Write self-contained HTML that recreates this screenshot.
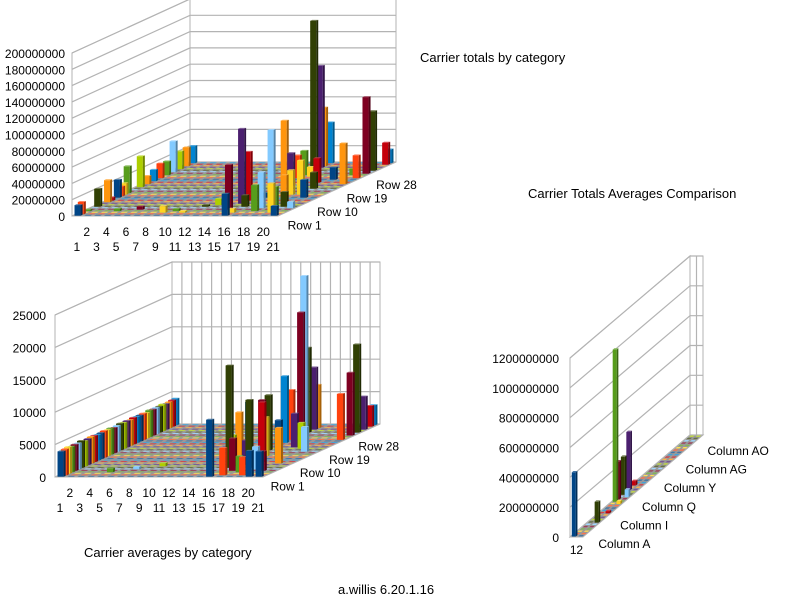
<!DOCTYPE html>
<html><head><meta charset="utf-8"><style>
html,body{margin:0;padding:0;background:#fff;width:800px;height:600px;overflow:hidden}
svg{display:block;font-family:"Liberation Sans",sans-serif}
</style></head><body>
<svg id="svg" width="800" height="600" viewBox="0 0 800 600">
<text x="420" y="62" font-size="13">Carrier totals by category</text>
<text x="528" y="198" font-size="13">Carrier Totals Averages Comparison</text>
<text x="84" y="557" font-size="13">Carrier averages by category</text>
<text x="338" y="594" font-size="13">a.willis 6.20.1.16</text>
</svg>
<script>
// ---- Chart 1: totals (values in millions) ----
const c1Cats = ["1","2","3","4","5","6","7","8","9","10","11","12","13","14","15","16","17","18","19","20","21"];
const c1RowLabels = ["Row 1","Row 10","Row 19","Row 28"];
const c1Ticks = [0,20,40,60,80,100,120,140,160,180,200];
const c1BarCat = [0,0,0,0,0,0,0,0,0,0,0,0,0,0,0,0,0,0,0,3,5,8,9,10,11,12,14,14,14,14,14,14,14,14,14,14,14,15,15,15,15,15,15,17,17,17,17,17,18,18,18,18,19,19,19,19,19,20,20,20,20,20,20,20,20];
const c1BarRow = [0,1,3,6,9,10,12,13,14,15,19,21,23,25,27,29,31,33,35,3,4,2,3,2,6,7,4,8,10,17,21,25,27,30,32,33,35,0,2,6,12,20,26,3,5,8,14,22,9,14,18,24,2,3,6,12,27,0,5,21,25,28,30,34,35];
const c1BarVal = [13,15,2,22,27,4,22,12,14,33,38,10,14,18,17,38,22,23,21,3,4,8,3,2,2,8,55,92,60,74,78,28,30,184,125,72,50,27,5,14,6,40,12,32,44,25,30,30,33,42,20,15,36,30,18,22,8,12,8,50,28,94,73,27,17];

// ---- Chart 2: averages ----
const c2Cats = c1Cats.slice();
const c2RowLabels = ["Row 1","Row 10","Row 19","Row 28"];
const c2Ticks = [0,5000,10000,15000,20000,25000];
const c2BarCat = [0,0,0,0,0,0,0,0,0,0,0,0,0,0,0,0,0,0,0,0,0,0,0,0,0,0,0,0,0,0,0,0,0,0,0,0,4,6,8,15,15,15,15,15,15,15,15,15,15,15,15,15,15,16,16,16,16,17,17,17,17,17,18,18,18,18,19,19,19,19,20,20,20,20,20,20,20];
const c2BarRow = [0,1,2,3,4,5,6,7,8,9,10,11,12,13,14,15,16,17,18,19,20,21,22,23,24,25,26,27,28,29,30,31,32,33,34,35,3,5,7,0,6,7,9,12,16,18,23,25,28,29,30,32,33,1,4,8,14,6,10,3,15,20,1,5,12,19,0,4,9,17,0,25,28,30,32,34,35];
const c2BarVal = [3900,4000,4100,3950,4050,4000,4150,3900,4000,4100,4050,3950,4000,4100,4000,4050,3900,4000,4100,4000,4050,3950,4100,4000,4000,4050,3900,4100,4000,4050,4000,4100,3950,4000,4050,4100,600,400,500,8800,15800,4800,7900,8800,8200,8500,10300,7700,19000,24400,13100,9600,6700,4200,5000,3800,6000,10500,9200,2500,4500,5200,2800,3500,6000,4000,4000,3000,5500,3800,3900,7100,9700,13600,5100,3200,3100];

// ---- Chart 3: comparison (values in millions) ----
const c3Cats = ["1","2"];
const c3RowLabels = ["Column A","Column I","Column Q","Column Y","Column AG","Column AO"];
const c3Ticks = [0,200,400,600,800,1000,1200];
const c3BarCat = [0,1,0,0,0,0,1,1,0,1];
const c3BarRow = [0,6,15,16,18,20,17,14,22,10];
const c3BarVal = [430,140,1020,255,255,390,50,20,30,15];

const palette = ["#004586","#ff420e","#ffd320","#579d1c","#7e0021","#83caff","#314004","#aecf00","#4b1f6f","#ff950e","#c5000b","#0084d1"];
const svg = document.getElementById('svg');
const NS = "http://www.w3.org/2000/svg";
function mk(tag, attrs, parent){const e=document.createElementNS(NS,tag);for(const k in attrs)e.setAttribute(k,attrs[k]);(parent||svg).appendChild(e);return e;}
function shade(hex,f){const n=parseInt(hex.slice(1),16);let r=n>>16,g=(n>>8)&255,b=n&255;const c=v=>Math.max(0,Math.min(255,Math.round(f>1?v+(255-v)*(f-1):v*f)));return "rgb("+c(r)+","+c(g)+","+c(b)+")";}

function chart(o){
  const g = mk('g',{});
  
  
  const nC=o.cats.length, nR=o.nRows;
  const P=(c,r,v)=>[o.x0+c/nC*o.cx+r/nR*o.rdx, o.y0-r/nR*o.rdy-v*o.scale];
  const H=o.ticks[o.ticks.length-1];
  const fl=[P(0,0,0),P(nC,0,0),P(nC,nR,0),P(0,nR,0)];
  const floor=mk('polygon',{points:fl.map(p=>p.join(',')).join(' '),fill:'#999',stroke:'#b3b3b3'},g);
  
  
  const lw=mk('polygon',{points:[P(0,0,0),P(0,nR,0),P(0,nR,H),P(0,0,H)].map(p=>p.join(',')).join(' '),fill:'#fff',stroke:'#b3b3b3'},g);
  
  
  const bw=mk('polygon',{points:[P(0,nR,0),P(nC,nR,0),P(nC,nR,H),P(0,nR,H)].map(p=>p.join(',')).join(' '),fill:'#fff',stroke:'#b3b3b3'},g);
  
  
  o.ticks.forEach(t=>{
    const a=P(0,0,t),b=P(0,nR,t),c=P(nC,nR,t);
    const gl=mk('polyline',{points:[a,b,c].map(p=>p.join(',')).join(' '),fill:'none',stroke:'#b3b3b3','stroke-width':1.2},g);
    
    
    const tl=mk('text',{x:o.labelX,y:a[1]+5,'text-anchor':'end','font-size':12},g);
    tl.textContent=String(t*o.unit);
    
    
  });
  if(o.vgrid){for(let c=1;c<nC;c++){const a=P(c,nR,0),b=P(c,nR,H);const vl=mk('line',{x1:a[0],y1:a[1],x2:b[0],y2:b[1],stroke:'#b3b3b3','stroke-width':1.2},g);}}
  const vals={};
  o.bc.forEach((c,k)=>{vals[c+'_'+o.br[k]]=o.bv[k];});
  for(let r=nR-1;r>=0;r--){
    for(let c=0;c<nC;c++){
      const v=vals[c+'_'+r]||0;
      const col=palette[r%palette.length];
      const w=0.62/nC*o.cx, ddx=0.6/nR*o.rdx, ddy=0.6/nR*o.rdy;
      const [bx,by]=P(c+0.19,r+0.2,0);
      const h=v*o.scale;
      const bar=mk('g',{},g);
      
      
      if(h>0.5){
        mk('rect',{x:bx,y:by-h,width:w,height:h,fill:col},bar);
        mk('polygon',{points:`${bx+w},${by} ${bx+w+ddx},${by-ddy} ${bx+w+ddx},${by-h-ddy} ${bx+w},${by-h}`,fill:shade(col,0.65)},bar);
      }
      mk('polygon',{points:`${bx},${by-h} ${bx+w},${by-h} ${bx+w+ddx},${by-h-ddy} ${bx+ddx},${by-h-ddy}`,fill:shade(col,1.25)},bar);
    }
  }
  o.cats.forEach((lab,c)=>{
    const [x]=P(c+0.5,0,0);
    const dy=o.oneLine?17:(c%2?20:35);
    const t=mk('text',{x:x,y:o.y0+dy,'text-anchor':'middle','font-size':12},g);
    t.textContent=lab;
    
    
  });
  o.rowLabels.forEach((lab,k)=>{
    const r=k*o.rowStep;
    const [x,y]=P(nC,r+0.5,0);
    const t=mk('text',{x:x+o.rlx,y:y+o.rly,'font-size':12},g);
    t.textContent=lab;
    
    
  });
}
chart({name:'totals-chart',cats:c1Cats,nRows:36,x0:72,y0:216,cx:206,rdx:118,rdy:54,scale:163/200,ticks:c1Ticks,unit:1000000,labelX:65,bc:c1BarCat,br:c1BarRow,bv:c1BarVal,rowLabels:c1RowLabels,rowStep:9,rlx:8,rly:14});
chart({name:'averages-chart',cats:c2Cats,nRows:36,x0:55,y0:477,cx:208,rdx:117,rdy:53,scale:162/25000,ticks:c2Ticks,unit:1,labelX:46,vgrid:true,bc:c2BarCat,br:c2BarRow,bv:c2BarVal,rowLabels:c2RowLabels,rowStep:9,rlx:6,rly:14});
chart({name:'comparison-chart',cats:c3Cats,nRows:44,x0:570,y0:537,cx:13,rdx:120,rdy:102,scale:179/1200,ticks:c3Ticks,unit:1000000,labelX:559,vgrid:true,oneLine:true,bc:c3BarCat,br:c3BarRow,bv:c3BarVal,rowLabels:c3RowLabels,rowStep:8,rlx:14,rly:12});
</script>
</body></html>
